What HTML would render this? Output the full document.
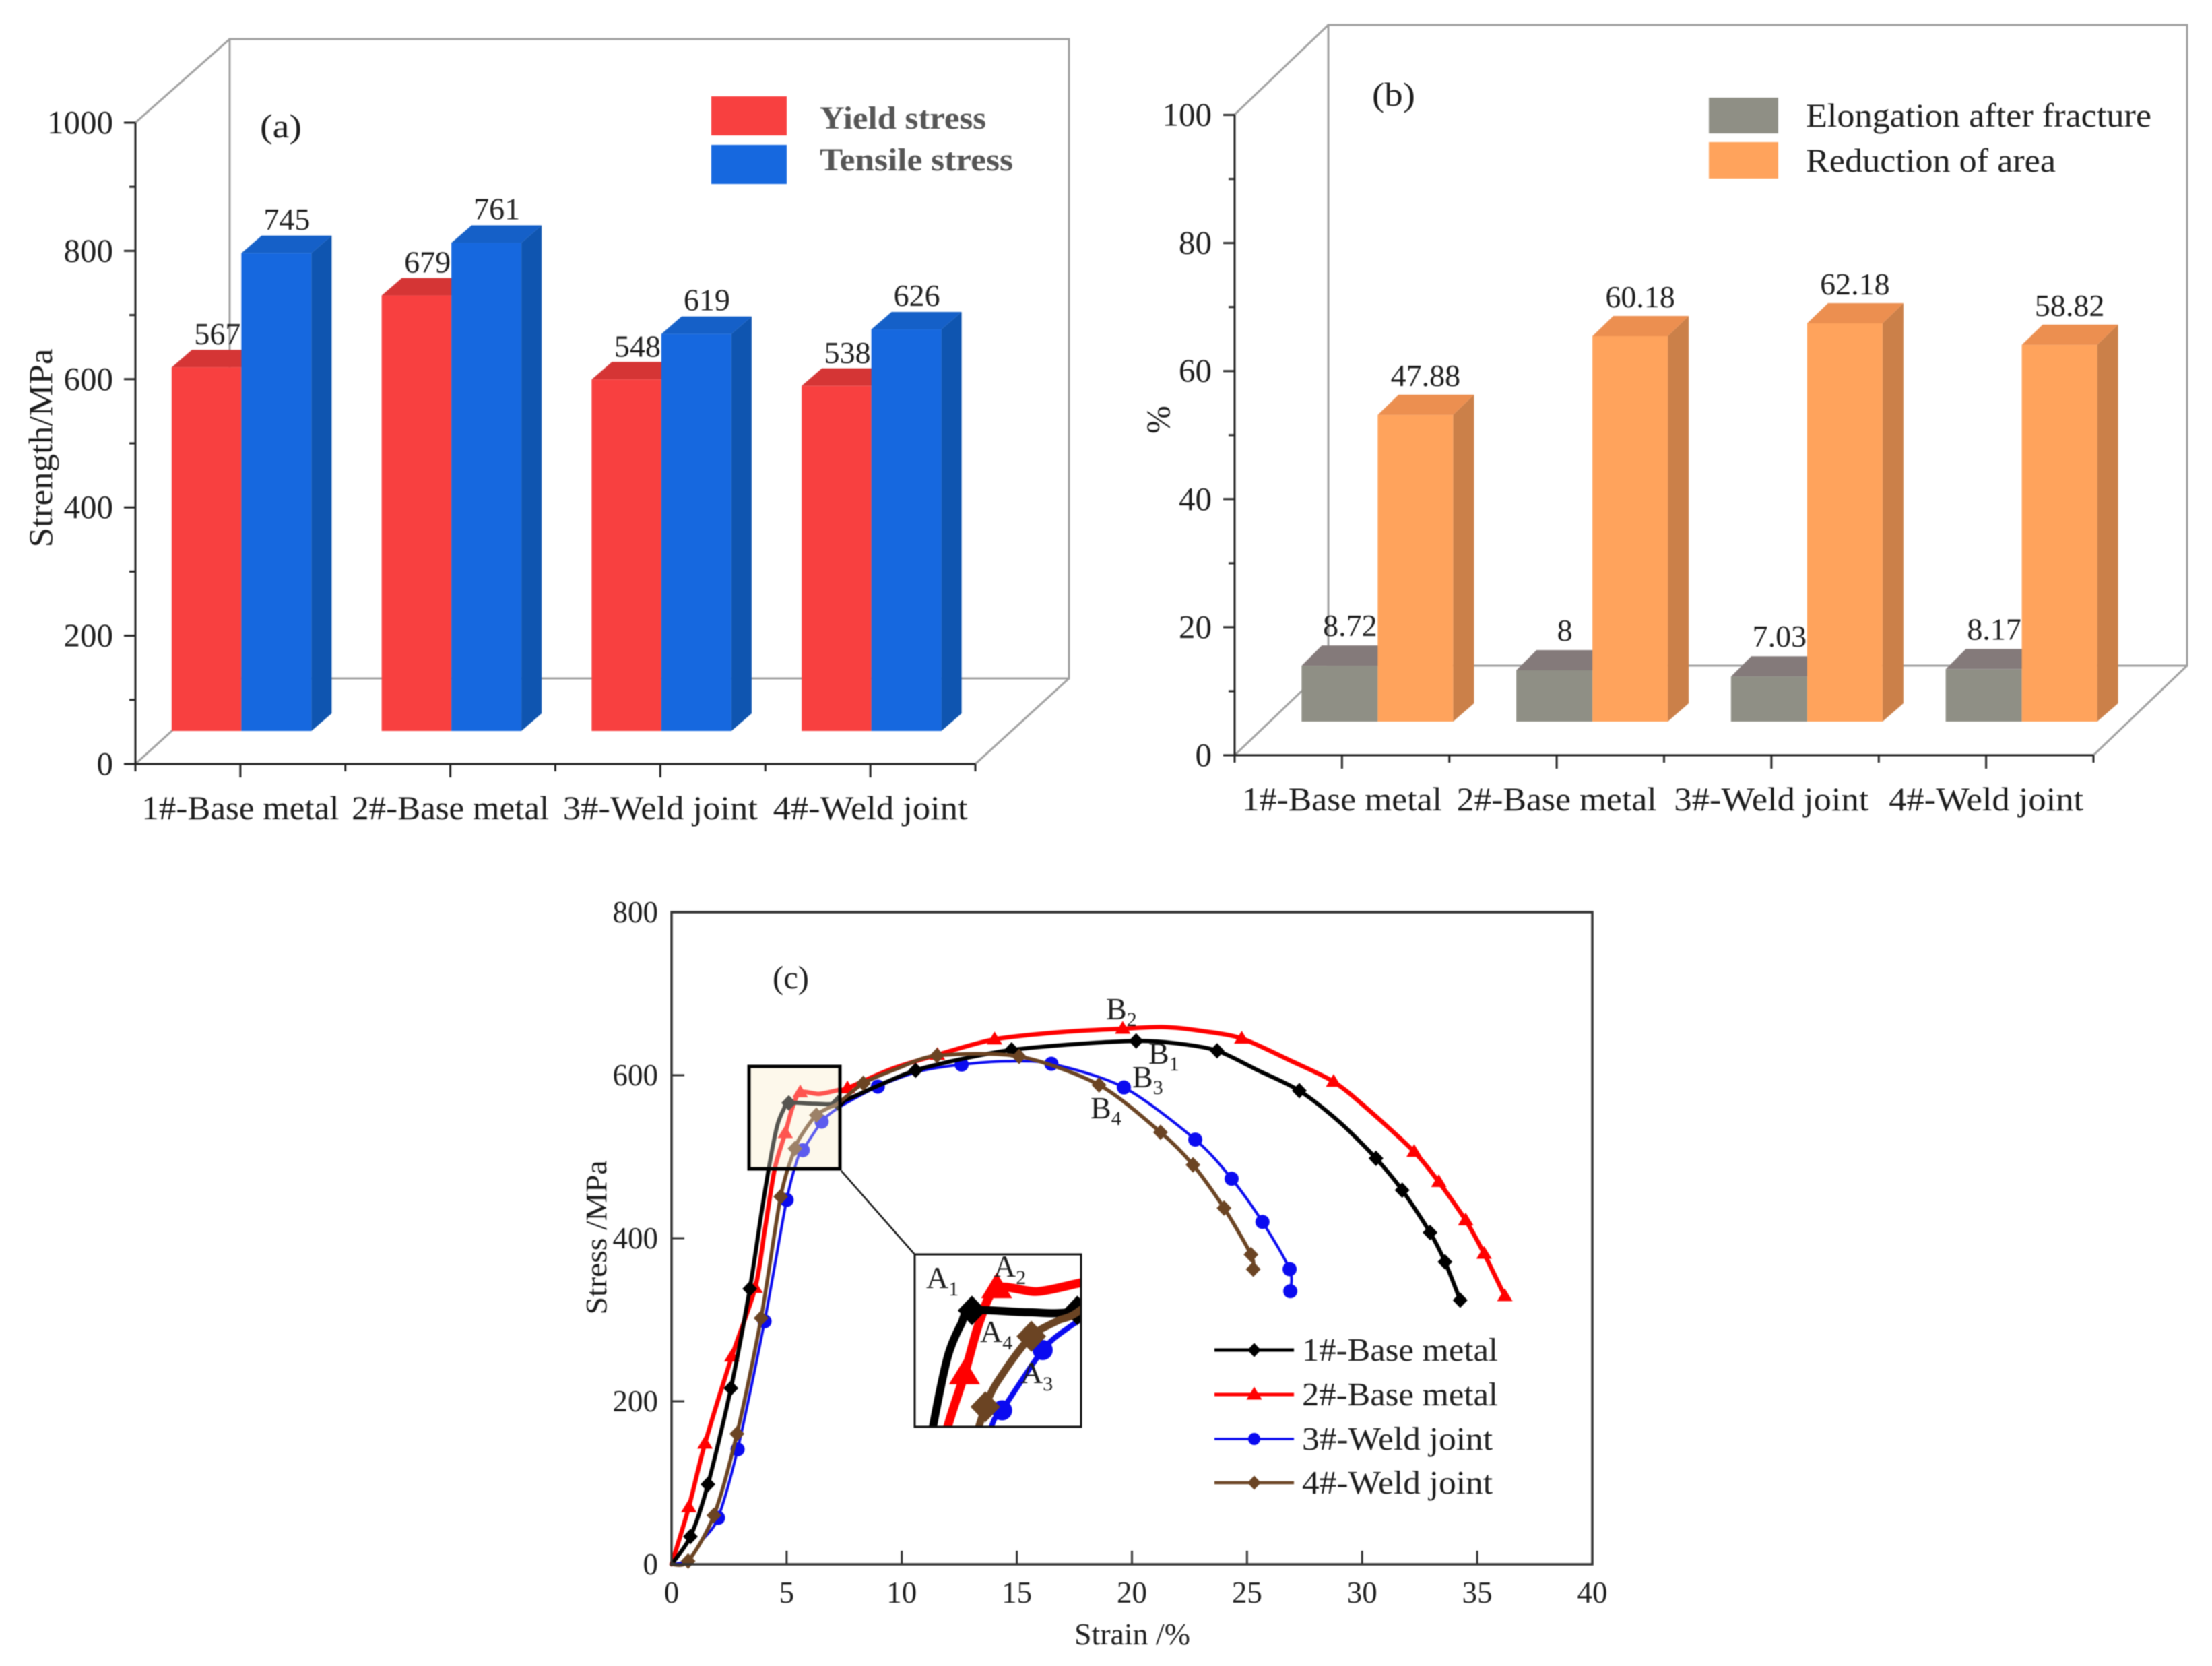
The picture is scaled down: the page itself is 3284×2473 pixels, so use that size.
<!DOCTYPE html>
<html lang="en">
<head>
<meta charset="utf-8">
<title>Mechanical properties charts</title>
<style>
html,body{margin:0;padding:0;background:#fff;width:3284px;height:2473px;overflow:hidden;}
svg{display:block;filter:blur(0.9px);overflow:hidden;}
text{font-family:"Liberation Serif","Times New Roman",serif;fill:#1c1c1c;}
</style>
</head>
<body>
<svg id="figure" xmlns="http://www.w3.org/2000/svg" width="3284" height="2473" viewBox="0 0 3284 2473">
  <rect width="3284" height="2473" fill="#fff"/>

  <g id="panelA">
    <g fill="none" stroke="#a0a0a0" stroke-width="3">
      <path d="M341 58H1587V1007H341Z"/>
      <path d="M201 1134L341 1007M201 182L341 58M1448 1134L1587 1007"/>
    </g>
    <g id="aBars"></g>
    <g id="aAxes"></g>
    <text x="386" y="204" font-size="50" textLength="62" lengthAdjust="spacingAndGlyphs">(a)</text>
    <text transform="translate(77,665) rotate(-90)" text-anchor="middle" font-size="50" textLength="295" lengthAdjust="spacingAndGlyphs" fill="#222">Strength/MPa</text>
    <rect x="1056" y="143" width="112" height="58" fill="#f84040"/>
    <rect x="1056" y="215" width="112" height="58" fill="#1668df"/>
    <text x="1217" y="191" font-size="48" font-weight="bold" style="fill:#555" textLength="247" lengthAdjust="spacingAndGlyphs">Yield stress</text>
    <text x="1217" y="253" font-size="48" font-weight="bold" style="fill:#555" textLength="287" lengthAdjust="spacingAndGlyphs">Tensile stress</text>
  </g>

  <g id="panelB">
    <g fill="none" stroke="#a0a0a0" stroke-width="3">
      <path d="M1972 37H3247V988H1972Z"/>
      <path d="M1833 1121L1972 988M1833 170L1972 37M3108 1121L3247 988"/>
    </g>
    <g id="bBars"></g>
    <g id="bAxes"></g>
    <text x="2037" y="157" font-size="50" textLength="64" lengthAdjust="spacingAndGlyphs">(b)</text>
    <text transform="translate(1736,623) rotate(-90)" text-anchor="middle" font-size="50">%</text>
    <rect x="2537" y="145" width="103" height="53" fill="#8f8f85"/>
    <rect x="2537" y="211" width="103" height="54" fill="#ffa35c"/>
    <text x="2681" y="188" font-size="50" textLength="513" lengthAdjust="spacingAndGlyphs">Elongation after fracture</text>
    <text x="2681" y="255" font-size="50" textLength="371" lengthAdjust="spacingAndGlyphs">Reduction of area</text>
  </g>

  <g id="panelC">
    <rect x="1112" y="1583" width="135" height="152" fill="#fdf8eb"/>
    <g id="cCurves"></g>
    <rect x="1112" y="1583" width="135" height="152" fill="#fdf8eb" fill-opacity="0.34"/>
    <rect x="1112" y="1583" width="135" height="152" fill="none" stroke="#000" stroke-width="5"/>
    <path d="M1249 1738L1357 1861" stroke="#111" stroke-width="2.5" fill="none"/>
    <clipPath id="insetClip"><rect x="1358" y="1862" width="247" height="256"/></clipPath>
    <rect x="1358" y="1862" width="247" height="256" fill="#fff"/>
    <g id="cInset" clip-path="url(#insetClip)"></g>
    <rect x="1358" y="1862" width="247" height="256" fill="none" stroke="#111" stroke-width="3"/>
    <g id="cAxes"></g>
    <text x="1147" y="1467" font-size="48" textLength="54" lengthAdjust="spacingAndGlyphs">(c)</text>
    <text transform="translate(900,1837) rotate(-90)" text-anchor="middle" font-size="44" textLength="229" lengthAdjust="spacingAndGlyphs">Stress /MPa</text>
    <text x="1681" y="2441" text-anchor="middle" font-size="45" textLength="172" lengthAdjust="spacingAndGlyphs">Strain /%</text>

    <text x="1642" y="1513" font-size="46">B<tspan dy="10" font-size="30">2</tspan></text>
    <text x="1705" y="1579" font-size="46">B<tspan dy="10" font-size="30">1</tspan></text>
    <text x="1681" y="1614" font-size="46">B<tspan dy="10" font-size="30">3</tspan></text>
    <text x="1619" y="1660" font-size="46">B<tspan dy="10" font-size="30">4</tspan></text>

    <text x="1375" y="1912" font-size="46">A<tspan dy="11" font-size="30">1</tspan></text>
    <text x="1475" y="1895" font-size="46">A<tspan dy="11" font-size="30">2</tspan></text>
    <text x="1455" y="1992" font-size="46">A<tspan dy="11" font-size="30">4</tspan></text>
    <text x="1515" y="2053" font-size="46">A<tspan dy="11" font-size="30">3</tspan></text>

    <g id="cLegend"></g>
    <text x="1933" y="2020" font-size="49" textLength="291" lengthAdjust="spacingAndGlyphs">1#-Base metal</text>
    <text x="1933" y="2086" font-size="49" textLength="291" lengthAdjust="spacingAndGlyphs">2#-Base metal</text>
    <text x="1933" y="2152" font-size="49" textLength="283" lengthAdjust="spacingAndGlyphs">3#-Weld joint</text>
    <text x="1933" y="2217" font-size="49" textLength="283" lengthAdjust="spacingAndGlyphs">4#-Weld joint</text>
  </g>
</svg>

<script>
/* ---------- data ---------- */
const categories = ["1#-Base metal", "2#-Base metal", "3#-Weld joint", "4#-Weld joint"];

const yieldStress = [567, 679, 548, 538];
const tensileStress = [745, 761, 619, 626];
const strengthTicks = [0, 200, 400, 600, 800, 1000];
const strengthMinorTicks = [100, 300, 500, 700, 900];

const elongation = [8.72, 8, 7.03, 8.17];
const reduction = [47.88, 60.18, 62.18, 58.82];
const percentTicks = [0, 20, 40, 60, 80, 100];
const percentMinorTicks = [10, 30, 50, 70, 90];

const strainTicks = [0, 5, 10, 15, 20, 25, 30, 35, 40];
const stressTicks = [0, 200, 400, 600, 800];

const strain1 = [0, 0.82, 1.58, 2.58, 3.40, 3.9, 4.30, 4.60, 4.87, 5.09, 6.2, 7.22, 8.8, 10.6, 12.8, 14.77, 17.5, 20.18, 21.95, 23.7, 25.47, 27.27, 29, 30.6, 31.74, 32.95, 33.6, 34.26];
const stress1 = [0, 34, 98, 216, 338, 430, 498, 539, 558, 566, 565, 566, 585, 606, 621, 631, 638, 642, 639, 630, 606, 581, 543, 498, 459, 407, 371, 324];
const marks1 = [1, 2, 3, 4, 9, 11, 13, 15, 17, 19, 21, 23, 24, 25, 26, 27];

const strain2 = [0, 0.75, 1.45, 2.62, 3.63, 4.05, 4.48, 4.94, 5.25, 5.59, 6.41, 7.27, 7.64, 9.5, 11.55, 14.03, 17, 19.6, 21.4, 23.1, 24.77, 26.8, 28.76, 30.3, 32.26, 33.33, 34.5, 35.3, 36.2];
const stress2 = [0, 70, 148, 255, 339, 410, 485, 529, 560, 579, 577, 582, 584, 607, 625, 644, 653, 657, 659, 654, 645, 619, 592, 557, 506, 469, 422, 381, 329];
const marks2 = [1, 2, 3, 4, 7, 9, 12, 14, 15, 17, 20, 22, 24, 25, 26, 27, 28];

const strain3 = [0, 0.7, 1.35, 2.02, 2.87, 4.04, 5.0, 5.48, 5.70, 6.52, 7.04, 7.6, 8.96, 10.8, 12.6, 14.5, 16.5, 19.65, 22.75, 24.33, 25.67, 26.85, 26.88];
const stress3 = [0, 5, 30, 57, 141, 298, 447, 498, 508, 543, 556, 566, 586, 605, 613, 617, 614, 585, 521, 473, 420, 362, 335];
const marks3 = [3, 4, 5, 6, 8, 9, 12, 14, 16, 17, 18, 19, 20, 21, 22];

const strain4 = [0, 0.72, 1.84, 2.84, 3.89, 4.74, 5.36, 5.73, 6.29, 6.82, 7.22, 8.33, 9.8, 11.53, 15.1, 18.57, 21.24, 22.65, 24.0, 25.17, 25.27];
const stress4 = [0, 4, 60, 160, 302, 451, 510, 530, 551, 560, 565, 590, 608, 624, 623, 588, 530, 490, 437, 380, 362];
const marks4 = [1, 2, 3, 4, 5, 6, 8, 11, 13, 14, 15, 16, 17, 18, 19, 20];

const insetStrainRange = [3.92, 7.31];
const insetStressRange = [498, 599];

/* ---------- helpers ---------- */
const NS = "http://www.w3.org/2000/svg";
function mk(parent, tag, attrs, txt) {
  const el = document.createElementNS(NS, tag);
  for (const k in attrs) el.setAttribute(k, attrs[k]);
  if (txt !== undefined) el.textContent = txt;
  parent.appendChild(el);
  return el;
}
function poly(pts) { return pts.map(p => p[0].toFixed(1) + "," + p[1].toFixed(1)).join(" "); }

function drawBar(parent, name, x0, x1, top, base, dx, dyTop, dyBase, cols, withSide) {
  if (withSide) {
    const side = mk(parent, "polygon", {points: poly([[x1, top], [x1 + dx, top - dyTop], [x1 + dx, base - dyBase], [x1, base]]), fill: cols.side});
    
    
  }
  const cap = mk(parent, "polygon", {points: poly([[x0, top], [x0 + dx, top - dyTop], [x1 + dx, top - dyTop], [x1, top]]), fill: cols.top});
  
  
  const front = mk(parent, "rect", {x: x0, y: top, width: x1 - x0, height: base - top, fill: cols.front});
  
  
}

function drawBarAxes(parent, prefix, left, right, yOf, catOf, majors, minors, labelRight, catY, baseWidth, weldWidth) {
  const step = (right - left) / categories.length;
  majors.forEach(v => {
    const t = mk(parent, "line", {x1: left - 17, x2: left, y1: yOf(v), y2: yOf(v), stroke: "#222", "stroke-width": 3});
    
    
    const l = mk(parent, "text", {x: labelRight, y: yOf(v) + 16, "text-anchor": "end", "font-size": 49}, String(v));
    
    
  });
  minors.forEach(v => {
    const t = mk(parent, "line", {x1: left - 9, x2: left, y1: yOf(v), y2: yOf(v), stroke: "#222", "stroke-width": 3});
    
    
  });
  const base = yOf(0);
  const yAxis = mk(parent, "line", {x1: left, x2: left, y1: yOf(majors[majors.length - 1]), y2: base, stroke: "#222", "stroke-width": 3});
  
  
  const xAxis = mk(parent, "line", {x1: left - 1, x2: right, y1: base, y2: base, stroke: "#222", "stroke-width": 3});
  
  
  for (let i = 0; i <= categories.length; i++) {
    const bx = left + i * step;
    const t = mk(parent, "line", {x1: bx, x2: bx, y1: base, y2: base + 11, stroke: "#222", "stroke-width": 3});
    
    
  }
  categories.forEach((c, i) => {
    const t = mk(parent, "line", {x1: catOf(i), x2: catOf(i), y1: base, y2: base + 20, stroke: "#222", "stroke-width": 3});
    
    
    const l = mk(parent, "text", {x: catOf(i), y: catY, "text-anchor": "middle", "font-size": 50, textLength: c.includes("Base") ? baseWidth : weldWidth, lengthAdjust: "spacingAndGlyphs"}, c);
    
    
  });
}

/* ---------- panel (a) ---------- */
const aY = v => 1134 - v * 0.952;
const aBarY = v => 1085 - v * 0.952;
const aCat = i => 201 + (i + 0.5) * 311.75;
const aBars = document.getElementById("aBars");
categories.forEach((c, i) => {
  const cx = aCat(i);
  drawBar(aBars, "bar-yield-stress", cx - 102, cx + 1.5, aBarY(yieldStress[i]), 1085, 30, 26, 26,
    {front: "#f84040", top: "#d53535", side: "#b02a2a"}, false);
  drawBar(aBars, "bar-tensile-stress", cx + 1.5, cx + 105.5, aBarY(tensileStress[i]), 1085, 30, 26, 26,
    {front: "#1668df", top: "#1560c8", side: "#0f55b0"}, true);
  const l1 = mk(aBars, "text", {x: cx - 34, y: aBarY(yieldStress[i]) - 34, "text-anchor": "middle", "font-size": 46}, String(yieldStress[i]));
  
  
  const l2 = mk(aBars, "text", {x: cx + 69, y: aBarY(tensileStress[i]) - 35, "text-anchor": "middle", "font-size": 46}, String(tensileStress[i]));
  
  
});
drawBarAxes(document.getElementById("aAxes"), "panel-a", 201, 1448, aY, aCat, strengthTicks, strengthMinorTicks, 168, 1216, 293, 289);

/* ---------- panel (b) ---------- */
const bY = v => 1121 - v * 9.505;
const bBarY = v => 1071 - v * 9.505;
const bCat = i => 1833 + (i + 0.5) * 318.75;
const bBars = document.getElementById("bBars");
categories.forEach((c, i) => {
  const cx = bCat(i);
  drawBar(bBars, "bar-elongation", cx - 60, cx + 53, bBarY(elongation[i]), 1071, 30, 30, 27,
    {front: "#8f8f85", top: "#847a7a", side: "#6f6a66"}, false);
  drawBar(bBars, "bar-reduction", cx + 53, cx + 165, bBarY(reduction[i]), 1071, 31, 30, 27,
    {front: "#ffa35c", top: "#ec8f50", side: "#cb8049"}, true);
  const l1 = mk(bBars, "text", {x: cx + 12, y: bBarY(elongation[i]) - 44, "text-anchor": "middle", "font-size": 46}, String(elongation[i]));
  
  
  const l2 = mk(bBars, "text", {x: cx + 124, y: bBarY(reduction[i]) - 43, "text-anchor": "middle", "font-size": 46}, String(reduction[i]));
  
  
});
drawBarAxes(document.getElementById("bAxes"), "panel-b", 1833, 3108, bY, bCat, percentTicks, percentMinorTicks, 1799, 1203, 297, 289);

/* ---------- panel (c) ---------- */
const cX = v => 997 + v * 34.175;
const cY = v => 2322 - v * 1.21;
const insetX = v => 1357 + 249 * (v - insetStrainRange[0]) / (insetStrainRange[1] - insetStrainRange[0]);
const insetY = v => 1861 + 258 * (insetStressRange[1] - v) / (insetStressRange[1] - insetStressRange[0]);

function splinePath(xs, ys, fx, fy) {
  const p = xs.map((x, i) => [fx(x), fy(ys[i])]);
  let d = "M" + p[0][0].toFixed(1) + " " + p[0][1].toFixed(1);
  for (let i = 0; i < p.length - 1; i++) {
    const p0 = p[Math.max(i - 1, 0)], p1 = p[i], p2 = p[i + 1], p3 = p[Math.min(i + 2, p.length - 1)];
    const c1 = [p1[0] + (p2[0] - p0[0]) / 7, p1[1] + (p2[1] - p0[1]) / 7];
    const c2 = [p2[0] - (p3[0] - p1[0]) / 7, p2[1] - (p3[1] - p1[1]) / 7];
    d += "C" + c1[0].toFixed(1) + " " + c1[1].toFixed(1) + " " + c2[0].toFixed(1) + " " + c2[1].toFixed(1) + " " + p2[0].toFixed(1) + " " + p2[1].toFixed(1);
  }
  return d;
}
function drawMarker(parent, shape, x, y, r, color, name) {
  let el;
  if (shape === "diamond") {
    el = mk(parent, "polygon", {points: poly([[x, y - r * 1.05], [x + r, y], [x, y + r * 1.05], [x - r, y]]), fill: color});
  } else if (shape === "triangle") {
    el = mk(parent, "polygon", {points: poly([[x, y - r * 1.15], [x + r * 1.15, y + r * 0.75], [x - r * 1.15, y + r * 0.75]]), fill: color});
  } else {
    el = mk(parent, "circle", {cx: x, cy: y, r: r, fill: color});
  }
  
  
}
const cCurves = document.getElementById("cCurves");
const cInset = document.getElementById("cInset");
function drawSeries(name, xs, ys, marks, shape, color, w, r, insetR) {
  const line = mk(cCurves, "path", {d: splinePath(xs, ys, cX, cY), fill: "none", stroke: color, "stroke-width": w, "stroke-linejoin": "round", "stroke-linecap": "round"});
  
  
  marks.forEach(i => drawMarker(cCurves, shape, cX(xs[i]), cY(ys[i]), r, color, 'point-' + name));
  const near = xs.map((x, i) => i).filter(i => ys[i] >= 400 && xs[i] <= 9);
  const il = mk(cInset, "path", {d: splinePath(near.map(i => xs[i]), near.map(i => ys[i]), insetX, insetY), fill: "none", stroke: color, "stroke-width": w * 2, "stroke-linejoin": "round"});
  
  
  marks.forEach(i => {
    if (ys[i] >= 400 && xs[i] < 7.7) drawMarker(cInset, shape, insetX(xs[i]), insetY(ys[i]), insetR, color, 'inset-point-' + name);
  });
}
drawSeries("3-weld-joint", strain3, stress3, marks3, "circle", "#0a0af0", 4, 10.5, 15);
drawSeries("2-base-metal", strain2, stress2, marks2, "triangle", "#ff0000", 6.5, 10, 20);
drawSeries("1-base-metal", strain1, stress1, marks1, "diamond", "#000000", 6, 11, 21);
drawSeries("4-weld-joint", strain4, stress4, marks4, "diamond", "#6b4423", 5.5, 11, 22);

const cAxes = document.getElementById("cAxes");
const frame = mk(cAxes, "rect", {x: cX(0), y: cY(800), width: cX(40) - cX(0), height: cY(0) - cY(800), fill: "none", stroke: "#333", "stroke-width": 3.5});


strainTicks.forEach(v => {
  const t = mk(cAxes, "line", {x1: cX(v), x2: cX(v), y1: 2322, y2: 2302, stroke: "#333", "stroke-width": 3});
  
  
  const l = mk(cAxes, "text", {x: cX(v), y: 2379, "text-anchor": "middle", "font-size": 45}, String(v));
  
  
});
stressTicks.forEach(v => {
  const t = mk(cAxes, "line", {x1: 997, x2: 1016, y1: cY(v), y2: cY(v), stroke: "#333", "stroke-width": 3});
  
  
  const l = mk(cAxes, "text", {x: 977, y: cY(v) + 15, "text-anchor": "end", "font-size": 45}, String(v));
  
  
});

const cLegend = document.getElementById("cLegend");
function legendEntry(name, y, shape, color, w, r) {
  const ln = mk(cLegend, "line", {x1: 1803, x2: 1921, y1: y, y2: y, stroke: color, "stroke-width": w});
  
  
  drawMarker(cLegend, shape, 1862, y, r, color, 'legend-marker-' + name);
}
legendEntry("1-base-metal", 2004, "diamond", "#000000", 5, 10);
legendEntry("2-base-metal", 2070, "triangle", "#ff0000", 5, 10);
legendEntry("3-weld-joint", 2136, "circle", "#0a0af0", 3.5, 9);
legendEntry("4-weld-joint", 2201, "diamond", "#6b4423", 4.5, 10);
</script>
</body>
</html>
